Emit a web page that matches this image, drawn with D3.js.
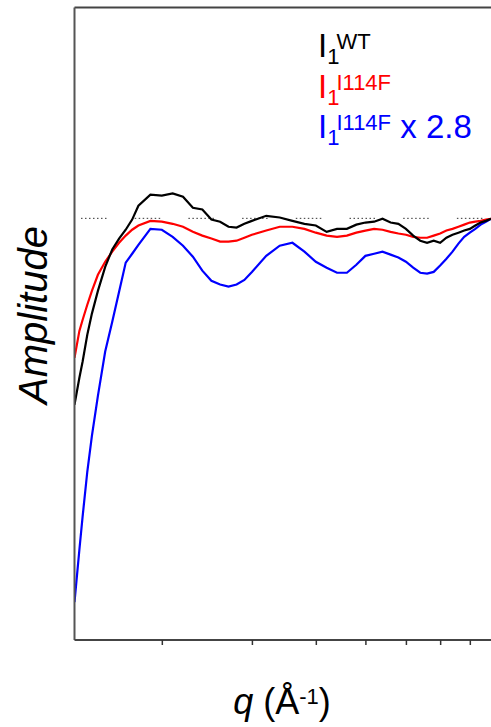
<!DOCTYPE html>
<html>
<head>
<meta charset="utf-8">
<script src="https://cdn.jsdelivr.net/npm/d3@7"></script>
<style>
  html, body { margin: 0; padding: 0; background: #fff; }
  svg { display: block; }
</style>
</head>
<body>
<svg id="chart" width="491" height="727"></svg>
<script>
// Scattering vector q (Å^-1), shared by all three traces
const q = [
  0.0135, 0.0138, 0.014, 0.0143, 0.0146, 0.015, 0.0155, 0.016, 0.0165, 0.017,
  0.0175, 0.018, 0.019, 0.020, 0.021, 0.022, 0.023, 0.024, 0.025, 0.026,
  0.027, 0.028, 0.029, 0.030, 0.032, 0.034, 0.036, 0.038, 0.040, 0.042,
  0.044, 0.046, 0.048, 0.050, 0.052, 0.054, 0.056, 0.058, 0.060, 0.062,
  0.064, 0.066, 0.068, 0.070, 0.072, 0.074, 0.076, 0.078, 0.080, 0.082,
  0.084, 0.086, 0.088
];

// Normalised amplitude, wild type
const ampWT = [
  0.558, 0.622, 0.660, 0.724, 0.774, 0.828, 0.885, 0.926, 0.952, 0.973,
  0.997, 1.030, 1.056, 1.054, 1.059, 1.051, 1.025, 1.021, 0.997, 0.992,
  0.980, 0.978, 0.987, 0.994, 1.006, 1.002, 0.994, 0.987, 0.983, 0.968,
  0.975, 0.975, 0.985, 0.990, 0.992, 0.999, 0.990, 0.987, 0.975, 0.959,
  0.947, 0.942, 0.947, 0.942, 0.954, 0.961, 0.966, 0.971, 0.975, 0.983,
  0.990, 0.994, 0.999
];

// Normalised amplitude, I114F mutant
const ampI114F = [
  0.669, 0.733, 0.759, 0.795, 0.828, 0.866, 0.897, 0.921, 0.942, 0.959,
  0.973, 0.983, 0.994, 0.992, 0.987, 0.980, 0.968, 0.959, 0.952, 0.945,
  0.945, 0.947, 0.954, 0.961, 0.971, 0.980, 0.980, 0.975, 0.966, 0.959,
  0.956, 0.959, 0.966, 0.971, 0.975, 0.973, 0.968, 0.964, 0.961, 0.956,
  0.954, 0.954, 0.959, 0.964, 0.971, 0.975, 0.980, 0.985, 0.990, 0.992,
  0.994, 0.997, 0.999
];

// I114F deviation from unity amplified by 2.8
const ampI114Fx28 = [
  0.090, 0.214, 0.292, 0.399, 0.484, 0.579, 0.684, 0.755, 0.826, 0.895,
  0.916, 0.937, 0.975, 0.973, 0.956, 0.935, 0.909, 0.876, 0.852, 0.843,
  0.838, 0.843, 0.854, 0.873, 0.911, 0.935, 0.942, 0.921, 0.897, 0.883,
  0.871, 0.871, 0.890, 0.911, 0.916, 0.921, 0.914, 0.907, 0.897, 0.883,
  0.871, 0.869, 0.873, 0.888, 0.904, 0.921, 0.940, 0.956, 0.966, 0.975,
  0.985, 0.992, 0.999
];

const xTicks = [0.02, 0.03, 0.04, 0.05, 0.06, 0.07, 0.08];
const refLevel = 1.0;

const series = [
  { name: "I114F x 2.8", values: ampI114Fx28, color: "#0000ff" },
  { name: "I114F", values: ampI114F, color: "#ff0000" },
  { name: "WT", values: ampWT, color: "#000000" }
];

const svg = d3.select("#chart");
const font = "'Liberation Sans', Arial, sans-serif";
const plotLeft = 74.5, plotRight = 491, plotTop = 7.5, plotBottom = 640;

const x = d3.scaleLog().domain([0.0135, 0.088]).range([plotLeft, plotRight]);
const y = d3.scaleLinear().domain([0, 1.5]).range([plotBottom, plotTop]);

svg.append("defs").append("clipPath").attr("id", "plot")
  .append("rect")
  .attr("x", plotLeft).attr("y", plotTop)
  .attr("width", plotRight - plotLeft).attr("height", plotBottom - plotTop);

// dotted reference line at unit amplitude: runs of fine dots
const dash = [];
for (let i = 0; i < 6; i++) dash.push(1.5, 2.5);
dash.push(1.5, 28.2);
svg.append("line")
  .attr("x1", 81).attr("x2", plotRight)
  .attr("y1", y(refLevel)).attr("y2", y(refLevel))
  .attr("stroke", "#333").attr("stroke-width", 1)
  .attr("stroke-dasharray", dash.join(","));

// traces
const line = d3.line()
  .x((d, i) => x(q[i]))
  .y(d => y(d));

svg.append("g").attr("clip-path", "url(#plot)")
  .selectAll("path")
  .data(series)
  .join("path")
  .attr("d", s => line(s.values))
  .attr("fill", "none")
  .attr("stroke", s => s.color)
  .attr("stroke-width", 2.2)
  .attr("stroke-linejoin", "miter");

// frame: top edge and left axis
svg.append("line")
  .attr("x1", plotLeft).attr("x2", plotRight)
  .attr("y1", plotTop).attr("y2", plotTop)
  .attr("stroke", "#444").attr("stroke-width", 1.8);
svg.append("line")
  .attr("x1", plotLeft).attr("x2", plotLeft)
  .attr("y1", plotTop).attr("y2", plotBottom)
  .attr("stroke", "#555").attr("stroke-width", 2);

// bottom axis with unlabelled log ticks
const xAxis = svg.append("g")
  .attr("transform", `translate(0,${plotBottom})`)
  .call(d3.axisBottom(x).tickValues(xTicks).tickSize(5).tickFormat(""));
xAxis.select(".domain")
  .attr("stroke", "#444").attr("stroke-width", 2)
  .attr("d", `M${plotLeft},0H${plotRight}`);
xAxis.selectAll(".tick line").attr("stroke", "#333").attr("stroke-width", 1.5);

// legend
const legend = [
  { sup: "WT", extra: "", color: "#000000", base: 57 },
  { sup: "I114F", extra: "", color: "#ff0000", base: 98 },
  { sup: "I114F", extra: " x 2.8", color: "#0000ff", base: 138 }
];
legend.forEach(l => {
  const t = svg.append("text")
    .attr("x", 318).attr("y", l.base)
    .attr("fill", l.color)
    .style("font-family", font);
  t.append("tspan").style("font-size", "33px").text("I");
  t.append("tspan").style("font-size", "22px").attr("dy", 7).text("1");
  t.append("tspan").style("font-size", "22px").attr("dx", -3).attr("dy", -15).text(l.sup);
  if (l.extra) {
    t.append("tspan").style("font-size", "33px").attr("dy", 8).text(l.extra);
  }
});

// axis titles
svg.append("text")
  .attr("transform", "translate(46.5,315) rotate(-90)")
  .attr("text-anchor", "middle")
  .style("font-family", font)
  .style("font-size", "40px")
  .style("font-style", "italic")
  .attr("fill", "#000")
  .text("Amplitude");

const xt = svg.append("text")
  .attr("x", 282).attr("y", 714)
  .attr("text-anchor", "middle")
  .style("font-family", font)
  .style("font-size", "36px")
  .attr("fill", "#000");
xt.append("tspan").style("font-style", "italic").text("q");
xt.append("tspan").text(" (Å");
xt.append("tspan").style("font-size", "22px").attr("dy", -10).text("-1");
xt.append("tspan").attr("dy", 10).text(")");
</script>
</body>
</html>
